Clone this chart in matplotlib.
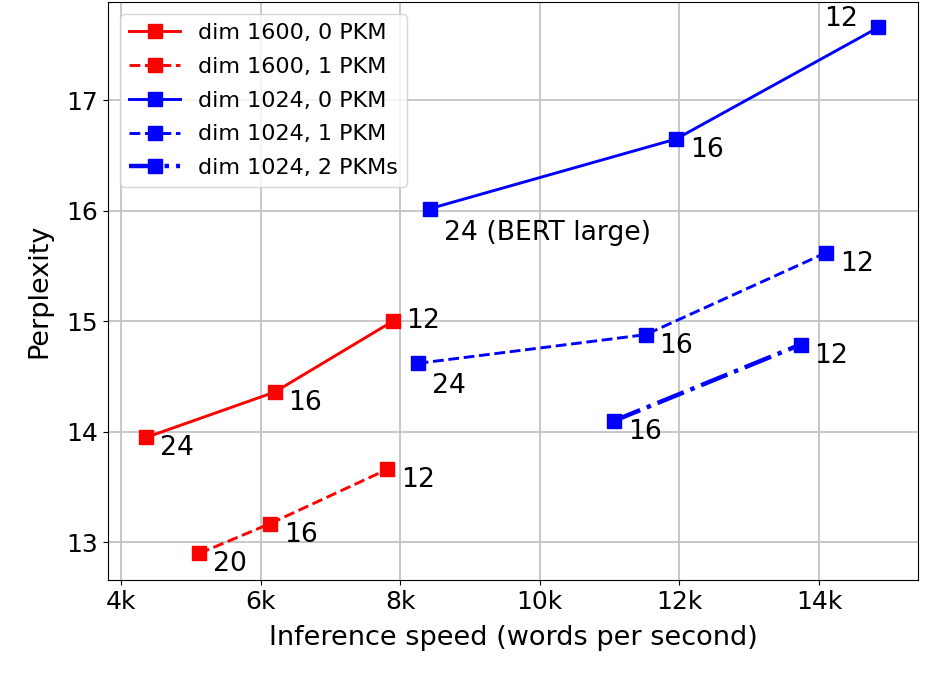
import matplotlib
matplotlib.use("Agg")
import matplotlib.pyplot as plt
from matplotlib.ticker import FuncFormatter

# Data: (speed in words/s, perplexity, layer label)
r0_speed = [4360, 6200, 7890]
r0_ppl = [13.95, 14.36, 15.00]
r0_lbl = ["24", "16", "12"]

r1_speed = [5120, 6135, 7810]
r1_ppl = [12.90, 13.17, 13.66]
r1_lbl = ["20", "16", "12"]

b0_speed = [8425, 11950, 14850]
b0_ppl = [16.02, 16.65, 17.66]
b0_lbl = ["24 (BERT large)", "16", "12"]

b1_speed = [8250, 11515, 14095]
b1_ppl = [14.62, 14.88, 15.62]
b1_lbl = ["24", "16", "12"]

b2_speed = [11060, 13735]
b2_ppl = [14.10, 14.79]
b2_lbl = ["16", "12"]

xticks = [4000, 6000, 8000, 10000, 12000, 14000]
yticks = [13, 14, 15, 16, 17]

plt.rcParams['font.family'] = ['DejaVu Sans']
fig = plt.figure(figsize=(9.5, 6.8), dpi=100)
ax = fig.add_axes([108/950, 1-580/680, (918-108)/950, (580-2)/680])

TICK_FS = 18
LAB_FS = 19.5
ANN_FS = 19.2
LEG_FS = 16
ms = 10
lw = 2.1
ax.plot(r0_speed, r0_ppl, color='red', ls='-', lw=lw, marker='s', ms=ms, label='dim 1600, 0 PKM')
ax.plot(r1_speed, r1_ppl, color='red', ls='--', lw=lw, marker='s', ms=ms, label='dim 1600, 1 PKM')
ax.plot(b0_speed, b0_ppl, color='blue', ls='-', lw=lw, marker='s', ms=ms, label='dim 1024, 0 PKM')
ax.plot(b1_speed, b1_ppl, color='blue', ls='--', lw=lw, marker='s', ms=ms, label='dim 1024, 1 PKM')
ax.plot(b2_speed, b2_ppl, color='blue', ls='-.', lw=3.2, marker='s', ms=ms, label='dim 1024, 2 PKMs')

def ann(xs, ys, lbls, offsets):
    for x, y, l, (dx, dy, ha, va) in zip(xs, ys, lbls, offsets):
        ax.annotate(l, (x, y), xytext=(dx, dy), textcoords='offset pixels',
                    ha=ha, va=va, fontsize=ANN_FS)

std = (14, 2, 'left', 'top')
ann(r0_speed, r0_ppl, r0_lbl, [std, std, (14, 0, 'left', 'center')])
ann(r1_speed, r1_ppl, r1_lbl, [std, std, std])
ann(b0_speed, b0_ppl, b0_lbl, [(14, -11, 'left', 'top'), std, (-20, -5, 'right', 'bottom')])
ann(b1_speed, b1_ppl, b1_lbl, [(14, -10, 'left', 'top'), std, std])
ann(b2_speed, b2_ppl, b2_lbl, [std, std])

ax.set_xlim(3814, 15417)
ax.set_ylim(12.66, 17.89)
ax.set_xticks(xticks)
ax.set_yticks(yticks)
ax.xaxis.set_major_formatter(FuncFormatter(lambda v, p: f"{int(v/1000)}k"))
ax.tick_params(labelsize=TICK_FS)
ax.grid(True, color='#c4c4c4', lw=1.3)
ax.set_axisbelow(True)
ax.set_xlabel('Inference speed (words per second)', fontsize=LAB_FS, labelpad=8)
ax.set_ylabel('Perplexity', fontsize=LAB_FS, labelpad=10)
ax.legend(loc='upper left', fontsize=LEG_FS, handlelength=2.3, labelspacing=0.62,
          borderaxespad=0.55)

fig.savefig('out.png', dpi=100)
